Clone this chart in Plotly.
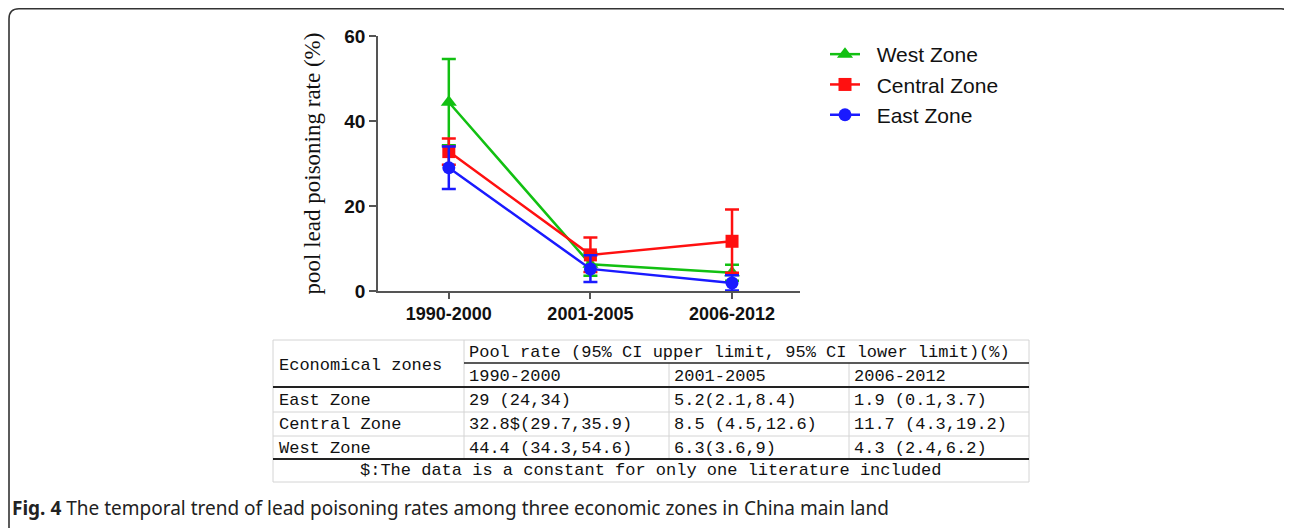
import plotly.graph_objects as go

# ---------------- data ----------------
periods = ["1990-2000", "2001-2005", "2006-2012"]

west_rate = [44.4, 6.3, 4.3]
west_low = [34.3, 3.6, 2.4]
west_up = [54.6, 9.0, 6.2]

central_rate = [32.8, 8.5, 11.7]
central_low = [29.7, 4.5, 4.3]
central_up = [35.9, 12.6, 19.2]

east_rate = [29.0, 5.2, 1.9]
east_low = [24.0, 2.1, 0.1]
east_up = [34.0, 8.4, 3.7]

y_ticks = [0, 20, 40, 60]

table_zone_names = ["East Zone", "Central Zone", "West Zone"]
table_cells = [
    ["29 (24,34)", "5.2(2.1,8.4)", "1.9 (0.1,3.7)"],
    ["32.8$(29.7,35.9)", "8.5 (4.5,12.6)", "11.7 (4.3,19.2)"],
    ["44.4 (34.3,54.6)", "6.3(3.6,9)", "4.3 (2.4,6.2)"],
]
table_header = "Pool rate (95% CI upper limit, 95% CI lower limit)(%)"
table_first_header = "Economical zones"
table_note = "$:The data is a constant for only one literature included"
caption_bold = "Fig. 4"
caption_text = " The temporal trend of lead poisoning rates among three economic zones in China main land"

# ---------------- layout geometry (pixels, page coordinates) ----------------
OFF = 8                    # page body margin
W, H = 1292 - OFF, 528 - OFF
PL, PR, PT, PB = 378, 800, 36, 291  # plot area box in page pixels


def px(x):
    return (x - PL) / (PR - PL)


def py(y):
    return (PB - y) / (PB - PT)


GREEN = "#12c012"
RED = "#ff1010"
BLUE = "#1a1aff"
GAP = "\u00a0\u00a0"

fig = go.Figure()


def add_series(name, rate, low, up, color, symbol, size):
    fig.add_trace(go.Scatter(
        x=periods, y=rate, name=GAP + name, mode="lines+markers",
        line=dict(color=color, width=2.5),
        marker=dict(symbol=symbol, size=size, color=color),
        error_y=dict(type="data", symmetric=False,
                     array=[u - r for u, r in zip(up, rate)],
                     arrayminus=[r - l for r, l in zip(rate, low)],
                     color=color, thickness=2.5, width=7),
        cliponaxis=False,
    ))


add_series("West Zone", west_rate, west_low, west_up, GREEN, "triangle-up", 14)
add_series("Central Zone", central_rate, central_low, central_up, RED, "square", 13)
add_series("East Zone", east_rate, east_low, east_up, BLUE, "circle", 13)

shapes = []
ann = []

# --- outer rounded border ---
x0, x1, y0, y1, r = 9, 1291, 8.8, 540, 10
path = (f"M {px(x0)},{py(y1)} L {px(x0)},{py(y0 + r)} "
        f"Q {px(x0)},{py(y0)} {px(x0 + r)},{py(y0)} "
        f"L {px(x1 - r)},{py(y0)} Q {px(x1)},{py(y0)} {px(x1)},{py(y0 + r)} "
        f"L {px(x1)},{py(y1)}")
shapes.append(dict(type="path", xref="paper", yref="paper", path=path,
                   line=dict(color="#333333", width=1.6)))

# --- table lines ---
TL, TR = 273, 1029
C1, C2, C3 = 464, 669, 849
R0, R1, R2, R3, R4, R5, R6 = 340, 363, 387, 412, 436, 459, 482
GRAY = "#d4d4d4"


def hline(xa, xb, y, color, w):
    shapes.append(dict(type="line", xref="paper", yref="paper",
                       x0=px(xa), x1=px(xb), y0=py(y), y1=py(y),
                       line=dict(color=color, width=w)))


def vline(x, ya, yb, color, w):
    shapes.append(dict(type="line", xref="paper", yref="paper",
                       x0=px(x), x1=px(x), y0=py(ya), y1=py(yb),
                       line=dict(color=color, width=w)))


vline(TL, R0, R6, GRAY, 1)
vline(TR, R0, R6, GRAY, 1)
vline(C1, R0, R5, GRAY, 1)
vline(C2, R1, R5, GRAY, 1)
vline(C3, R1, R5, GRAY, 1)
hline(TL, TR, R0, GRAY, 1)
hline(TL, TR, R6, GRAY, 1)
hline(TL, TR, R3, GRAY, 1)
hline(TL, TR, R4, GRAY, 1)
hline(C1, TR, R1, "#222222", 1.6)
hline(TL, TR, R2, "#222222", 2.2)
hline(TL, TR, R5, "#222222", 2.2)

TFONT = dict(family="Liberation Mono", size=17, color="#111111")


def txt(x, y, s, anchor="left", font=TFONT):
    ann.append(dict(xref="paper", yref="paper", x=px(x), y=py(y), text=s,
                    showarrow=False, xanchor=anchor, yanchor="middle", font=font))


txt(277, 365, table_first_header)
txt(467, 352, table_header)
col_x = [467, 672, 852]
for cx, p in zip(col_x, periods):
    txt(cx, 376, p)
row_y = [400, 424, 448]
for ry, name, cells in zip(row_y, table_zone_names, table_cells):
    txt(277, ry, name)
    for cx, c in zip(col_x, cells):
        txt(cx, ry, c)
txt((TL + TR) / 2, 470, table_note, anchor="center")

# --- caption ---
txt(10, 508, f"<b>{caption_bold}</b>{caption_text}",
    font=dict(family="Noto Sans", size=19, color="#222222"))

fig.update_layout(
    width=W, height=H,
    margin=dict(l=PL - OFF, r=1292 - PR, t=PT - OFF, b=528 - PB, pad=0),
    paper_bgcolor="white", plot_bgcolor="white",
    showlegend=True,
    legend=dict(x=px(825), y=py(34), xanchor="left", yanchor="top",
                font=dict(family="Liberation Sans", size=21, color="#111111"),
                bgcolor="rgba(0,0,0,0)", itemwidth=30, tracegroupgap=0),
    xaxis=dict(type="category", range=[-0.5, 2.48], showgrid=False, zeroline=False,
               showline=True, linecolor="#555555", linewidth=1.5,
               ticks="outside", ticklen=6, tickwidth=1.5, tickcolor="#555555",
               tickfont=dict(family="Liberation Sans", size=18, color="#111111", weight="bold")),
    yaxis=dict(range=[0, 60], tickvals=y_ticks, showgrid=False, zeroline=False,
               showline=True, linecolor="#555555", linewidth=1.5,
               ticks="outside", ticklen=7, tickwidth=1.5, tickcolor="#555555",
               tickfont=dict(family="Liberation Sans", size=19, color="#111111", weight="bold"),
               title=dict(text="pool lead poisoning rate (%)", standoff=17,
                          font=dict(family="Liberation Serif", size=23, color="#111111"))),
    shapes=shapes,
    annotations=ann,
)

fig.write_html("out.html")
